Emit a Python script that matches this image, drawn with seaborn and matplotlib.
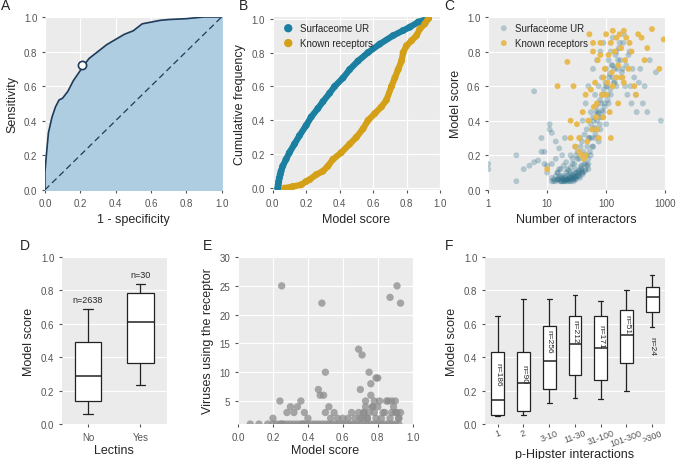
import matplotlib
matplotlib.use("Agg")
import matplotlib.pyplot as plt
import seaborn as sns
import numpy as np
import pandas as pd

# ---- data ----
roc_fpr = [0, 0, 0.01, 0.02, 0.04, 0.06, 0.08, 0.1, 0.13, 0.16, 0.2, 0.22, 0.25, 0.3, 0.35, 0.4, 0.45, 0.5, 0.55, 0.6, 0.65, 0.7, 0.8, 0.9, 1.0]
roc_tpr = [0, 0.1, 0.22, 0.33, 0.42, 0.48, 0.52, 0.53, 0.57, 0.63, 0.69, 0.72, 0.76, 0.8, 0.84, 0.87, 0.9, 0.92, 0.96, 0.97, 0.98, 0.985, 0.99, 1, 1]
roc_point = (0.21, 0.72)

ur_cdf_x = [0.03, 0.033, 0.036, 0.04, 0.045, 0.05, 0.06, 0.08, 0.1, 0.13, 0.16, 0.2, 0.23, 0.27, 0.3, 0.34, 0.37, 0.42, 0.46, 0.51, 0.57, 0.64, 0.72, 0.78, 0.82, 0.87, 0.93]
ur_cdf_y = [0, 0.02, 0.04, 0.06, 0.08, 0.1, 0.13, 0.17, 0.21, 0.26, 0.31, 0.37, 0.42, 0.47, 0.51, 0.56, 0.6, 0.65, 0.7, 0.75, 0.8, 0.85, 0.9, 0.93, 0.95, 0.98, 1.0]
kr_cdf_x = [0.07, 0.12, 0.17, 0.2, 0.22, 0.26, 0.3, 0.33, 0.36, 0.41, 0.46, 0.5, 0.54, 0.57, 0.61, 0.65, 0.68, 0.71, 0.73, 0.75, 0.77, 0.78, 0.8, 0.83, 0.86, 0.88, 0.91, 0.93]
kr_cdf_y = [0, 0.01, 0.02, 0.04, 0.05, 0.08, 0.1, 0.13, 0.17, 0.21, 0.26, 0.3, 0.35, 0.4, 0.44, 0.48, 0.52, 0.6, 0.65, 0.7, 0.75, 0.8, 0.84, 0.87, 0.9, 0.94, 0.97, 1.0]

ur_inter = [1, 1, 3, 3, 5, 6, 8, 9, 10, 11, 12, 12, 13, 14, 14, 15, 15, 16, 16, 17, 18, 18, 19, 20, 20, 21, 22, 22, 23, 24, 25, 25, 26, 27, 28, 29, 30, 30, 32, 33, 35, 36, 38, 40, 40, 42, 45, 45, 48, 50, 50, 52, 55, 55, 58, 60, 60, 62, 65, 65, 68, 70, 70, 72, 75, 75, 78, 80, 80, 85, 85, 90, 90, 95, 100, 100, 105, 110, 110, 120, 120, 130, 130, 140, 150, 150, 160, 170, 180, 190, 200, 210, 230, 250, 270, 300, 330, 380, 450, 550, 700, 850, 20, 25, 30, 35, 40, 45, 50, 18, 22, 28, 33, 38, 12, 15, 17, 19, 21, 24, 27, 31, 34, 37]
ur_score = [0.15, 0.12, 0.2, 0.05, 0.14, 0.57, 0.3, 0.22, 0.1, 0.35, 0.07, 0.15, 0.06, 0.08, 0.18, 0.06, 0.1, 0.07, 0.12, 0.05, 0.08, 0.2, 0.06, 0.07, 0.3, 0.1, 0.06, 0.12, 0.08, 0.05, 0.1, 0.2, 0.07, 0.15, 0.09, 0.06, 0.12, 0.25, 0.08, 0.18, 0.1, 0.3, 0.14, 0.1, 0.4, 0.2, 0.15, 0.5, 0.25, 0.12, 0.6, 0.3, 0.2, 0.45, 0.35, 0.25, 0.7, 0.4, 0.3, 0.55, 0.45, 0.35, 0.75, 0.5, 0.28, 0.6, 0.42, 0.35, 0.8, 0.55, 0.65, 0.45, 0.85, 0.5, 0.7, 0.38, 0.6, 0.75, 0.5, 0.8, 0.55, 0.65, 0.88, 0.7, 0.6, 0.8, 0.75, 0.85, 0.65, 0.7, 0.9, 0.6, 0.55, 0.8, 0.5, 0.65, 0.45, 0.7, 0.6, 0.75, 0.68, 0.4, 0.05, 0.06, 0.07, 0.08, 0.1, 0.12, 0.15, 0.05, 0.06, 0.07, 0.09, 0.11, 0.05, 0.06, 0.08, 0.05, 0.06, 0.07, 0.08, 0.1, 0.11, 0.13]
ur_inter2 = [13, 14, 16, 17, 18, 19, 20, 21, 22, 23, 24, 25, 26, 27, 28, 29, 30, 31, 32, 34, 36, 38, 40, 42, 44, 46, 48, 50, 53, 56, 59, 62, 66, 70, 74, 78, 82, 86, 90, 95, 100, 106, 112, 118, 125, 135, 145, 155, 165, 175, 185, 195, 220, 240, 260, 280, 320, 360, 420, 500,
             15, 17, 19, 21, 23, 25, 27, 29, 31, 33, 35, 37, 39, 41, 43, 47, 51, 55, 60, 64, 68, 73, 79, 85, 92, 98, 104, 115, 128, 140, 4, 7, 8, 9, 11, 6, 12, 10, 14, 16]
ur_score2 = [0.05, 0.05, 0.06, 0.05, 0.07, 0.06, 0.05, 0.08, 0.05, 0.06, 0.07, 0.05, 0.09, 0.06, 0.05, 0.08, 0.07, 0.06, 0.1, 0.08, 0.07, 0.12, 0.09, 0.15, 0.11, 0.2, 0.14, 0.18, 0.22, 0.3, 0.25, 0.35, 0.32, 0.4, 0.45, 0.38, 0.5, 0.42, 0.55, 0.48, 0.6, 0.52, 0.65, 0.58, 0.72, 0.62, 0.78, 0.7, 0.82, 0.75, 0.68, 0.85, 0.72, 0.78, 0.6, 0.7, 0.55, 0.62, 0.5, 0.45,
             0.1, 0.12, 0.14, 0.16, 0.11, 0.13, 0.18, 0.15, 0.2, 0.22, 0.18, 0.25, 0.28, 0.22, 0.32, 0.35, 0.3, 0.38, 0.42, 0.36, 0.48, 0.44, 0.52, 0.46, 0.58, 0.62, 0.55, 0.67, 0.72, 0.62, 0.12, 0.17, 0.22, 0.15, 0.38, 0.16, 0.33, 0.14, 0.28, 0.24]
kr_inter = [10, 15, 22, 25, 28, 30, 32, 35, 38, 40, 42, 45, 48, 50, 52, 55, 58, 60, 62, 65, 68, 70, 72, 75, 80, 85, 90, 95, 100, 105, 110, 115, 120, 125, 130, 140, 150, 160, 170, 180, 190, 200, 210, 220, 240, 250, 270, 300, 320, 350, 400, 450, 500, 600, 800, 950, 60, 80, 100, 130, 160, 200, 25, 35, 45, 70, 90, 120, 150]
kr_score = [0.12, 0.6, 0.74, 0.3, 0.6, 0.25, 0.38, 0.22, 0.2, 0.45, 0.18, 0.55, 0.28, 0.4, 0.9, 0.58, 0.35, 0.8, 0.48, 0.62, 0.42, 0.5, 0.75, 0.3, 0.85, 0.55, 0.65, 0.7, 0.9, 0.62, 0.78, 0.45, 0.85, 0.68, 0.92, 0.8, 0.88, 0.72, 0.9, 0.82, 0.65, 0.92, 0.75, 0.88, 0.7, 0.85, 0.8, 0.6, 0.55, 0.9, 0.88, 0.75, 0.82, 0.93, 0.7, 0.87, 0.85, 0.78, 0.55, 0.6, 0.5, 0.62, 0.4, 0.3, 0.2, 0.35, 0.42, 0.3, 0.65]

lectin_groups = ["No", "Yes"]
lectin_stats = [(0.06, 0.14, 0.29, 0.49, 0.69), (0.235, 0.365, 0.61, 0.785, 0.84)]
lectin_n = ["n=2638", "n=30"]

vir_score = [0.07, 0.12, 0.17, 0.2, 0.22, 0.24, 0.25, 0.26, 0.28, 0.3, 0.32, 0.34, 0.36, 0.37, 0.38, 0.4, 0.42, 0.44, 0.46, 0.48, 0.5, 0.52, 0.54, 0.56, 0.58, 0.6, 0.62, 0.64, 0.66, 0.68, 0.7, 0.72, 0.74, 0.76, 0.78, 0.8, 0.82, 0.84, 0.86, 0.88, 0.9, 0.92,
             0.25, 0.24, 0.48, 0.5, 0.46, 0.47, 0.49, 0.5, 0.52, 0.53, 0.3, 0.32, 0.34, 0.36, 0.38, 0.4, 0.2, 0.28, 0.55, 0.57, 0.6, 0.63, 0.65, 0.67,
             0.69, 0.7, 0.71, 0.72, 0.73, 0.74, 0.75, 0.76, 0.77, 0.78, 0.79, 0.8, 0.81, 0.83, 0.85, 0.87, 0.88, 0.89, 0.9, 0.91, 0.92, 0.93, 0.87, 0.91, 0.93,
             0.7, 0.72, 0.74, 0.76, 0.78, 0.8, 0.82, 0.84, 0.86, 0.75, 0.77, 0.79, 0.73, 0.69, 0.71, 0.9, 0.92, 0.88]
vir_count = [1] * 42 + [25, 5, 22, 10, 7, 6, 6, 3, 4, 2, 4, 3, 4, 5, 3, 2, 2, 3, 3, 2, 2, 2, 3, 2,
             14, 7, 13, 3, 5, 2, 10, 8, 4, 3, 9, 9, 5, 3, 5, 2, 5, 4, 3, 3, 2, 3, 23, 25, 22,
             2, 3, 2, 6, 5, 4, 2, 3, 5, 3, 4, 2, 4, 3, 2, 5, 2, 3]

hip_groups = ["1", "2", "3-10", "11-30", "31-100", "101-300", ">300"]
hip_stats = [(0.05, 0.055, 0.145, 0.43, 0.645), (0.055, 0.08, 0.245, 0.43, 0.75), (0.125, 0.21, 0.375, 0.59, 0.75),
             (0.155, 0.295, 0.48, 0.65, 0.775), (0.15, 0.265, 0.455, 0.645, 0.735), (0.2, 0.365, 0.535, 0.685, 0.805),
             (0.58, 0.67, 0.76, 0.82, 0.89)]
hip_n = ["n=186", "n=90", "n=256", "n=212", "n=171", "n=51", "n=24"]
hip_n_y = [0.3, 0.3, 0.5, 0.56, 0.53, 0.6, 0.47]

# ---- style ----
sns.set_style("darkgrid", {"axes.facecolor": "#EBEBEB", "grid.color": "white", "axes.edgecolor": "none",
                           "xtick.bottom": True, "ytick.left": True, "xtick.color": "#555555", "ytick.color": "#555555"})
plt.rcParams['font.family'] = ['Liberation Sans', 'DejaVu Sans']
plt.rcParams['xtick.labelsize'] = 7
plt.rcParams['ytick.labelsize'] = 7
plt.rcParams['axes.labelsize'] = 9
plt.rcParams['xtick.major.size'] = 2
plt.rcParams['ytick.major.size'] = 2

fig = plt.figure(figsize=(6.8, 4.6), dpi=100)
axA = fig.add_axes([0.066, 0.585, 0.26, 0.376])
axB = fig.add_axes([0.401, 0.585, 0.246, 0.376])
axC = fig.add_axes([0.718, 0.585, 0.26, 0.376])
axD = fig.add_axes([0.091, 0.076, 0.154, 0.363])
axE = fig.add_axes([0.35, 0.076, 0.257, 0.363])
axF = fig.add_axes([0.713, 0.076, 0.265, 0.363])

def letter(ax, s, dx=-0.25):
    ax.text(dx, 1.07, s, transform=ax.transAxes, fontsize=10, va="center", ha="left")

# A
axA.fill_between(roc_fpr, roc_tpr, color="#AECDE1", zorder=2)
sns.lineplot(x=roc_fpr, y=roc_tpr, ax=axA, color="#1F3A5A", lw=1.2, zorder=3, estimator=None, sort=False)
axA.plot([0, 1], [0, 1], ls=(0, (5, 3)), color="#1F3A5A", lw=0.9, zorder=3)
axA.scatter([roc_point[0]], [roc_point[1]], s=35, facecolor="white", edgecolor="#1F3A5A", lw=1.2, zorder=4)
axA.set_xlim(0, 1); axA.set_ylim(0, 1)
axA.set_xlabel("1 - specificity"); axA.set_ylabel("Sensitivity")
axA.set_xticks(np.arange(0, 1.01, 0.2)); axA.set_yticks(np.arange(0, 1.01, 0.2))
letter(axA, "A")

# B
axB.plot(ur_cdf_x, ur_cdf_y, color="#1A7FA0", lw=4.5, solid_capstyle="round", zorder=3)
axB.plot(kr_cdf_x, kr_cdf_y, color="#D4A017", lw=4.5, solid_capstyle="round", zorder=3)
sns.scatterplot(x=ur_cdf_x, y=ur_cdf_y, ax=axB, color="#1A7FA0", s=25, edgecolor="none", label="Surfaceome UR", zorder=3)
sns.scatterplot(x=kr_cdf_x, y=kr_cdf_y, ax=axB, color="#D4A017", s=25, edgecolor="none", label="Known receptors", zorder=3)
axB.set_xlim(0, 1); axB.set_ylim(-0.01, 1.01)
axB.set_xticks(np.arange(0, 1.01, 0.2)); axB.set_yticks(np.arange(0, 1.01, 0.2))
axB.set_xlabel("Model score"); axB.set_ylabel("Cumulative frequency")
axB.legend(loc="upper left", frameon=False, fontsize=7, handletextpad=0.2, borderaxespad=0.2, markerscale=1.2)
letter(axB, "B", -0.2)

# C
sns.scatterplot(x=ur_inter + ur_inter2, y=ur_score + ur_score2, ax=axC, color="#2E6F8A", alpha=0.3, s=18, edgecolor="none", label="Surfaceome UR")
sns.scatterplot(x=kr_inter, y=kr_score, ax=axC, color="#E8B84A", alpha=0.95, s=18, edgecolor="none", label="Known receptors")
axC.set_xscale("log"); axC.set_xlim(1, 1000); axC.set_ylim(0, 1)
axC.set_xticks([1, 10, 100, 1000]); axC.set_xticklabels(["1", "10", "100", "1000"])
axC.minorticks_off()
axC.set_yticks(np.arange(0, 1.01, 0.2))
axC.set_xlabel("Number of interactors"); axC.set_ylabel("Model score")
axC.legend(loc="upper left", frameon=False, fontsize=7, handletextpad=0.2, borderaxespad=0.2)
letter(axC, "C", -0.25)

def boxes(ax, stats, labels):
    bs = [dict(whislo=s[0], q1=s[1], med=s[2], q3=s[3], whishi=s[4], label=l, fliers=[]) for s, l in zip(stats, labels)]
    ax.bxp(bs, widths=0.5, patch_artist=True, showfliers=False,
           boxprops=dict(facecolor="white", edgecolor="#222222", lw=0.9),
           medianprops=dict(color="#222222", lw=1.1), whiskerprops=dict(color="#222222", lw=0.9),
           capprops=dict(color="#222222", lw=0.9), capwidths=0.18)

# D
boxes(axD, lectin_stats, lectin_groups)
for i, t in enumerate(lectin_n):
    axD.text(i + 1, lectin_stats[i][4] + 0.03, t, ha="center", va="bottom", fontsize=6.5)
axD.set_ylim(0, 1); axD.set_yticks(np.arange(0, 1.01, 0.2))
axD.set_xlabel("Lectins", labelpad=2); axD.set_ylabel("Model score")
axD.grid(axis="x", visible=False)
letter(axD, "D", -0.4)

# E
sns.scatterplot(x=vir_score, y=vir_count, ax=axE, color="#8C8C8C", alpha=0.75, s=28, edgecolor="none")
axE.set_xlim(0, 1); axE.set_ylim(1, 30)
axE.set_xticks(np.arange(0, 1.01, 0.2)); axE.set_yticks([5, 10, 15, 20, 25, 30])
axE.set_xlabel("Model score", labelpad=2); axE.set_ylabel("Viruses using the receptor")
letter(axE, "E", -0.2)

# F
boxes(axF, hip_stats, hip_groups)
for i, (t, yy) in enumerate(zip(hip_n, hip_n_y)):
    axF.text(i + 1, yy, t, ha="center", va="center", rotation=270, fontsize=6)
axF.set_ylim(0, 1); axF.set_yticks(np.arange(0, 1.01, 0.2))
for lab in axF.get_xticklabels():
    lab.set_rotation(20)
    lab.set_fontsize(6.5)
axF.tick_params(axis="x", pad=1)
axF.set_xlabel("p-Hipster interactions", labelpad=0); axF.set_ylabel("Model score")
axF.grid(axis="x", visible=False)
letter(axF, "F", -0.22)

fig.savefig("out.png", dpi=100)
